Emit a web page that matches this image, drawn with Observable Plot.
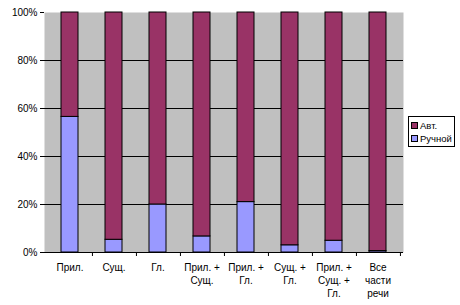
<!DOCTYPE html>
<html><head><meta charset="utf-8">
<script src="https://cdn.jsdelivr.net/npm/d3@7"></script>
<script src="https://cdn.jsdelivr.net/npm/@observablehq/plot@0.6"></script>
<style>
body{margin:0;background:#fff;font-family:"Liberation Sans",Arial,sans-serif;}
#wrap{position:relative;width:460px;height:305px;}
#legend{position:absolute;left:408px;top:116px;width:47px;height:31px;border:1px solid #000;background:#fff;font-size:9.5px;color:#000;box-sizing:border-box;padding:2px 0 0 2px;}
#legend div{height:13px;line-height:13px;white-space:nowrap;}
#legend span.sw{display:inline-block;width:5px;height:5px;border:1px solid #000;margin-right:2px;vertical-align:0px;}
</style></head>
<body><div id="wrap"></div>
<script>
const categories = ["Прил.", "Сущ.", "Гл.", "Прил. +\nСущ.", "Прил. +\nГл.", "Сущ. +\nГл.", "Прил. +\nСущ. +\nГл.", "Все\nчасти\nречи"];
const manual = [56.5, 5.3, 20, 6.7, 21, 3, 4.9, 0.6];
const auto = [43.5, 94.7, 80, 93.3, 79, 97, 95.1, 99.4];
const seriesNames = ["Ручной", "Авт."];
const colors = ["#9999ff", "#993366"];
const yTicks = [0, 20, 40, 60, 80, 100];

const rows = [];
categories.forEach((c, i) => rows.push({cat: c, series: seriesNames[0], value: manual[i]}));
categories.forEach((c, i) => rows.push({cat: c, series: seriesNames[1], value: auto[i]}));

const W = 460, H = 305, mL = 44, mR = 57, mT = 12, mB = 53;
const step = (W - mL - mR) / categories.length;

const chart = Plot.plot({
  width: W, height: H,
  marginLeft: mL, marginRight: mR, marginTop: mT, marginBottom: mB,
  style: {fontFamily: '"Liberation Sans", Arial, sans-serif', fontSize: "10px", color: "#000", background: "#fff"},
  x: {domain: categories, paddingInner: 0.62, paddingOuter: 0.31, label: null},
  y: {domain: [0, 100], label: null},
  color: {domain: seriesNames, range: colors},
  marks: [
    Plot.frame({fill: "#c0c0c0", stroke: null}),
    Plot.ruleY(yTicks.filter(d => d > 0 && d < 100), {stroke: "#000", strokeWidth: 1}),
    Plot.barY(rows, {x: "cat", y: "value", fill: "series", stroke: "#000", strokeWidth: 1}),
    Plot.ruleX([0], {frameAnchor: "left", stroke: "#808080"}),
    Plot.ruleY([0], {stroke: "#000"}),
    Plot.axisY({ticks: yTicks, tickFormat: d => d + "%", tickSize: 4, tickPadding: 3, label: null, stroke: "#000", fill: "#000"}),
    Plot.axisX({tickSize: 4, text: null, label: null, dx: step / 2, stroke: "#000"}),
    Plot.axisX({tickSize: 0, tickPadding: 9, label: null, lineHeight: 1.3, fill: "#000"})
  ]
});
const wrap = document.getElementById("wrap");
wrap.appendChild(chart);

const legend = document.createElement("div");
legend.id = "legend";
[1, 0].forEach(i => {
  const row = document.createElement("div");
  row.innerHTML = `<span class="sw" style="background:${colors[i]}"></span>${seriesNames[i]}`;
  legend.appendChild(row);
});
wrap.appendChild(legend);
</script></body></html>
